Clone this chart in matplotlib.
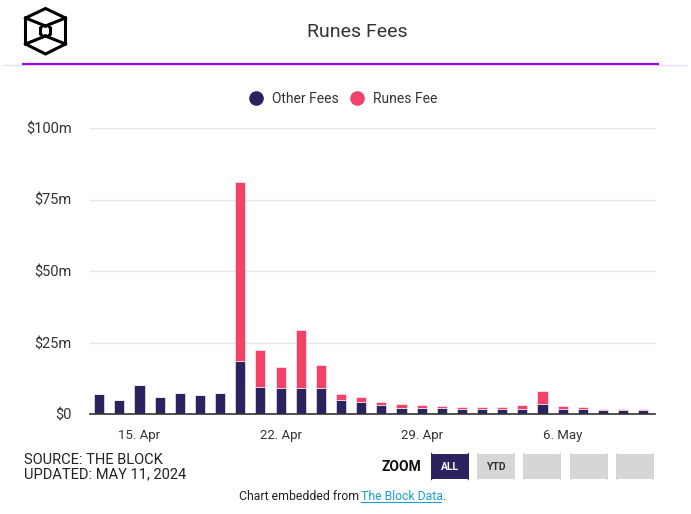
import numpy as np
import pandas as pd
import matplotlib
matplotlib.use("Agg")
import matplotlib.pyplot as plt
from matplotlib.patches import FancyBboxPatch, Polygon
from matplotlib.lines import Line2D

# daily fees, $ millions
dates = pd.date_range("2024-04-13", "2024-05-10", freq="D")
other_fees = [7.0, 4.9, 10.1, 6.1, 7.4, 6.7, 7.4, 18.4, 9.5, 9.0, 9.0, 9.0, 4.8, 4.2,
              3.1, 2.1, 2.1, 2.1, 1.7, 1.7, 1.7, 1.7, 3.5, 1.7, 1.7, 1.4, 1.4, 1.4]
runes_fee = [0, 0, 0, 0, 0, 0, 0, 62.7, 12.9, 7.6, 20.3, 8.0, 2.2, 1.9,
             1.0, 1.5, 1.0, 0.6, 0.6, 0.6, 0.6, 1.4, 4.4, 1.0, 0.6, 0.5, 0.5, 0.5]
y_ticks = [0, 25, 50, 75, 100]
y_labels = ["$0", "$25m", "$50m", "$75m", "$100m"]
x_ticks = pd.to_datetime(["2024-04-15", "2024-04-22", "2024-04-29", "2024-05-06"])
x_labels = ["15. Apr", "22. Apr", "29. Apr", "6. May"]

navy = "#2a2360"
pink = "#f2426a"
W, H = 691, 514

plt.rcParams["font.family"] = ["Roboto", "DejaVu Sans"]
fig = plt.figure(figsize=(W / 100, H / 100), dpi=100)

# overlay in pixel coordinates for header / footer decorations
ov = fig.add_axes([0, 0, 1, 1], zorder=0)
ov.set_xlim(0, W)
ov.set_ylim(H, 0)
ov.axis("off")

# logo (cube)
hexa = [(45.5, 8.5), (65.5, 18), (65.5, 44), (45.5, 54), (25.5, 44), (25.5, 18)]
ov.add_patch(Polygon(hexa, closed=True, fill=False, ec="black", lw=2.2, joinstyle="miter"))
for (x1, y1), (x2, y2) in [((25.5, 18), (45.5, 26)), ((65.5, 18), (45.5, 26)),
                           ((25.5, 44), (45.5, 36)), ((65.5, 44), (45.5, 36))]:
    ov.plot([x1, x2], [y1, y2], color="black", lw=2.2)
inner = [(43, 25.5), (48, 25.5), (50.5, 28), (50.5, 34), (48, 36.5), (43, 36.5),
         (40.5, 34), (40.5, 28)]
ov.add_patch(Polygon(inner, closed=True, fill=False, ec="black", lw=2.2))

ov.text(357, 32, "Runes Fees", ha="center", va="center", fontsize=14, color="#333333")
ov.plot([4, 687], [65, 65], color="#ecdcf4", lw=1)
ov.plot([23, 658], [64, 64], color="#a000f0", lw=1.5)

# footer
ov.text(24, 460, "SOURCE: THE BLOCK", ha="left", va="center", fontsize=10.5, color="#222222")
ov.text(24, 474, "UPDATED: MAY 11, 2024", ha="left", va="center", fontsize=10.5, color="#222222")
ov.text(421, 467, "ZOOM", ha="right", va="center", fontsize=10, fontweight="bold",
        color="#111111")
buttons = [(430, "ALL"), (476, "YTD"), (522, ""), (569, ""), (615, "")]
for i, (bx, lab) in enumerate(buttons):
    fc = navy if i == 0 else "#d6d6d6"
    ov.add_patch(FancyBboxPatch((bx + 1, 454), 38, 25, boxstyle="round,pad=0,rounding_size=2.5",
                                fc=fc, ec="none", mutation_aspect=-1))
    if lab:
        ov.text(bx + 20, 467, lab, ha="center", va="center", fontsize=7.5,
                fontweight="bold", color="white" if i == 0 else "#333333")
ov.text(359, 496, "Chart embedded from", ha="right", va="center", fontsize=8.8, color="#222222")
ov.text(361, 496, "The Block Data", ha="left", va="center", fontsize=8.8, color="#1a9fd8")
ov.text(442.5, 496, ".", ha="left", va="center", fontsize=8.8, color="#222222")
ov.plot([361, 441], [502, 502], color="#1a9fd8", lw=0.8)

# main chart
ax = fig.add_axes([90 / W, 1 - 414 / H, 565 / W, (414 - 128) / H], zorder=1)
ax.patch.set_alpha(0)
ax.bar(dates, other_fees, width=0.5, color=navy, edgecolor="white", linewidth=0.4, zorder=3)
ax.bar(dates, runes_fee, width=0.5, bottom=other_fees, color=pink, edgecolor="white",
       linewidth=0.4, zorder=3)
ax.set_ylim(0, 100)
ax.set_xlim(dates[0] - pd.Timedelta(hours=11), dates[-1] + pd.Timedelta(hours=14))
ax.set_yticks(y_ticks)
ax.set_yticklabels(y_labels)
ax.set_xticks(x_ticks)
ax.set_xticklabels(x_labels)
ax.grid(axis="y", color="#e6e6e6", lw=1, zorder=0)
for s in ["top", "right", "left"]:
    ax.spines[s].set_visible(False)
ax.spines["bottom"].set_color("#333333")
ax.spines["bottom"].set_linewidth(1.2)
ax.spines["bottom"].set_zorder(4)
ax.tick_params(axis="y", length=0, pad=13, labelsize=10.5, labelcolor="#333333")
ax.tick_params(axis="x", length=0, pad=11, labelsize=9.5, labelcolor="#333333")

handles = [Line2D([], [], ls="", marker="o", ms=9.5, color=navy),
           Line2D([], [], ls="", marker="o", ms=9.5, color=pink)]
fig.legend(handles, ["Other Fees", "Runes Fee"], loc="center", ncol=2, frameon=False,
           bbox_to_anchor=(340 / W, 1 - 99 / H), fontsize=10, handletextpad=0.15,
           columnspacing=0.3, labelcolor="#333333")

fig.savefig("out.png", dpi=100)
